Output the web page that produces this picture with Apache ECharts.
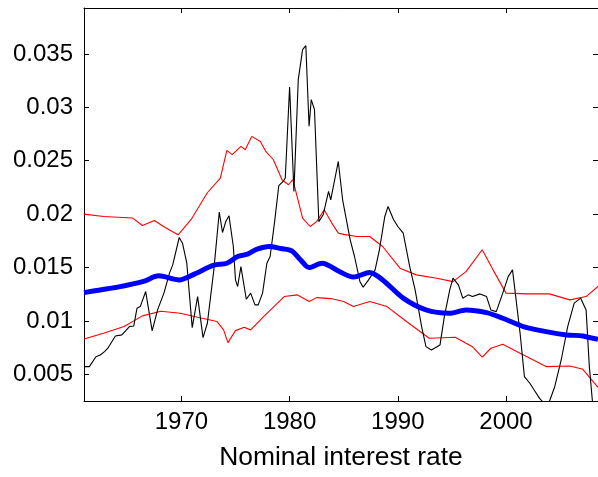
<!DOCTYPE html>
<html>
<head>
<meta charset="utf-8">
<script src="https://cdn.jsdelivr.net/npm/echarts@6/dist/echarts.min.js"></script>
<style>html,body{margin:0;padding:0;background:#fff}#c{width:598px;height:477px}</style>
</head>
<body>
<div id="c"></div>
<script>
var xTicks = [1970, 1980, 1990, 2000];
var yTicks = [0.005, 0.01, 0.015, 0.02, 0.025, 0.03, 0.035];
var xTitle = 'Nominal interest rate';

var trendYears = [1961.0,1962.5,1964.1,1966.5,1967.9,1969.8,1971.2,1973.0,1974.2,1975.2,1976.1,1977.0,1978.1,1979.2,1980.2,1981.0,1981.8,1983.0,1984.6,1985.9,1987.4,1988.6,1990.5,1992.6,1994.8,1996.3,1998.2,1999.7,2001.6,2003.7,2005.6,2007.1,2008.5];
var trendVals  = [0.01265,0.0129,0.01316,0.0137,0.01422,0.01384,0.01438,0.01522,0.0154,0.01603,0.01625,0.01672,0.01697,0.01678,0.01656,0.01572,0.0150,0.0154,0.01462,0.0141,0.01453,0.01384,0.01213,0.01103,0.01072,0.01103,0.01078,0.01025,0.00947,0.0090,0.00869,0.00859,0.00828];

var upperYears = [1961.0,1962.8,1965.5,1966.4,1967.5,1968.5,1969.7,1970.9,1972.4,1973.6,1974.2,1974.7,1975.5,1975.9,1976.5,1977.3,1977.8,1978.5,1979.3,1979.9,1980.3,1981.2,1981.9,1982.5,1983.2,1983.9,1984.5,1985.0,1986.2,1987.4,1988.6,1990.2,1991.7,1993.6,1995.1,1996.3,1997.8,1998.8,2000.0,2001.9,2004.0,2005.9,2007.4,2008.5];
var upperVals  = [0.0200,0.01978,0.01963,0.01893,0.0194,0.01875,0.01806,0.0195,0.0220,0.02338,0.02597,0.02557,0.02634,0.02603,0.02728,0.0268,0.02587,0.02509,0.02322,0.02275,0.02322,0.01963,0.01884,0.0193,0.02041,0.01916,0.01822,0.0181,0.0179,0.0179,0.01697,0.01494,0.01431,0.0140,0.01368,0.01462,0.01666,0.01478,0.0126,0.01253,0.01253,0.01197,0.01228,0.01322];

var lowerYears = [1961.0,1962.8,1964.7,1966.4,1968.1,1969.9,1971.5,1973.3,1973.9,1974.3,1975.0,1975.8,1976.4,1977.6,1979.5,1980.7,1981.8,1982.5,1983.8,1985.0,1985.9,1987.4,1989.0,1990.8,1992.9,1995.3,1996.9,1997.8,1998.6,1999.7,2001.3,2003.7,2005.9,2007.1,2008.5];
var lowerVals  = [0.00831,0.00885,0.00947,0.01047,0.01091,0.01072,0.01035,0.00994,0.00916,0.00797,0.00909,0.00941,0.00916,0.0104,0.01228,0.01244,0.01181,0.01218,0.01209,0.01181,0.01134,0.01181,0.01134,0.00994,0.00838,0.00847,0.00759,0.0066,0.00744,0.00782,0.00697,0.00572,0.00578,0.00547,0.00378];

var rateYears = [1961.0,1961.5,1962.1,1962.5,1962.9,1963.2,1963.9,1964.5,1965.2,1965.6,1965.9,1966.2,1966.7,1967.3,1967.8,1968.4,1968.9,1969.2,1969.8,1970.1,1970.5,1971.0,1971.5,1972.0,1972.4,1973.0,1973.5,1973.8,1974.1,1974.4,1974.8,1975.0,1975.2,1975.5,1976.0,1976.4,1976.8,1977.1,1977.5,1977.9,1978.2,1978.6,1979.0,1979.4,1979.6,1980.0,1980.4,1980.8,1981.2,1981.5,1981.8,1982.0,1982.3,1982.7,1983.1,1983.6,1983.8,1984.5,1984.9,1985.6,1986.0,1986.5,1986.8,1987.3,1987.9,1988.3,1988.8,1989.1,1989.6,1990.0,1990.5,1991.1,1991.6,1992.2,1992.6,1993.1,1993.9,1994.3,1994.8,1995.1,1995.6,1996.0,1996.5,1996.9,1997.6,1998.2,1998.6,1999.1,1999.7,2000.2,2000.6,2001.3,2001.7,2002.2,2002.6,2003.1,2003.5,2004.0,2004.5,2005.1,2005.7,2006.3,2006.9,2007.4,2007.7,2008.0,2008.5];
var rateVals  = [0.00572,0.00572,0.00665,0.00681,0.00712,0.00744,0.00859,0.00869,0.00947,0.00953,0.01119,0.01134,0.01275,0.00906,0.01103,0.01265,0.01447,0.01525,0.01781,0.01728,0.0154,0.00937,0.01228,0.00843,0.00978,0.01478,0.0202,0.01828,0.0193,0.01984,0.01697,0.01384,0.01322,0.01509,0.01203,0.0126,0.0115,0.0115,0.0126,0.0154,0.01603,0.01916,0.02266,0.02306,0.02338,0.03191,0.02212,0.03259,0.0354,0.03578,0.02822,0.03072,0.02978,0.0193,0.01994,0.02212,0.02134,0.02493,0.02134,0.01759,0.01603,0.01368,0.01316,0.01384,0.01478,0.01666,0.01978,0.02072,0.0195,0.01884,0.01822,0.01509,0.0129,0.00947,0.00759,0.00728,0.00775,0.0104,0.0129,0.0140,0.01338,0.01213,0.01244,0.01228,0.01253,0.01228,0.01103,0.01087,0.0126,0.01415,0.01478,0.00885,0.00478,0.00416,0.00353,0.00275,0.0023,0.00243,0.00384,0.00634,0.00947,0.01166,0.01213,0.01103,0.00572,0.0023,0.0015];

function zip(a, b) { return a.map(function (v, i) { return [v, b[i]]; }); }

var FONT = '"Liberation Sans", Arial, sans-serif';
var X_MIN = 1961, X_MAX = 2008.5, Y_MIN = 0.0025, Y_MAX = 0.0393;

function baseAxis(extra) {
  var o = {
    type: 'value',
    axisLine: { show: true, onZero: false, lineStyle: { color: '#000', width: 1 } },
    axisTick: { show: true, inside: true, length: 5, lineStyle: { color: '#000', width: 1 } },
    splitLine: { show: false },
    axisLabel: { show: false }
  };
  for (var k in extra) o[k] = extra[k];
  return o;
}

var chart = echarts.init(document.getElementById('c'), null, { renderer: 'canvas' });
chart.setOption({
  animation: false,
  backgroundColor: '#fff',
  grid: { left: 84, top: 8, width: 515, height: 393, containLabel: false },
  xAxis: [
    baseAxis({
      position: 'bottom', min: X_MIN, max: X_MAX,
      name: xTitle, nameLocation: 'middle', nameGap: 44,
      nameTextStyle: { fontFamily: FONT, fontSize: 26.4, color: '#000' },
      axisTick: { show: true, inside: true, length: 5, customValues: xTicks, lineStyle: { color: '#000', width: 1 } },
      axisLabel: { show: true, customValues: xTicks, margin: 9, fontFamily: FONT, fontSize: 24, color: '#000',
        formatter: function (v) { return String(v); } }
    }),
    baseAxis({
      position: 'top', min: X_MIN, max: X_MAX,
      axisTick: { show: true, inside: true, length: 5, customValues: xTicks, lineStyle: { color: '#000', width: 1 } }
    })
  ],
  yAxis: [
    baseAxis({
      position: 'left', min: Y_MIN, max: Y_MAX,
      axisTick: { show: true, inside: true, length: 5, customValues: yTicks, lineStyle: { color: '#000', width: 1 } },
      axisLabel: { show: true, customValues: yTicks, margin: 11, fontFamily: FONT, fontSize: 24, color: '#000',
        formatter: function (v) { return String(v); } }
    }),
    baseAxis({
      position: 'right', min: Y_MIN, max: Y_MAX,
      axisTick: { show: true, inside: true, length: 5, customValues: yTicks, lineStyle: { color: '#000', width: 1 } }
    })
  ],
  series: [
    { type: 'line', name: 'upper', data: zip(upperYears, upperVals), showSymbol: false, symbol: 'none',
      lineStyle: { color: '#ff0000', width: 1.1 }, clip: true, z: 2 },
    { type: 'line', name: 'lower', data: zip(lowerYears, lowerVals), showSymbol: false, symbol: 'none',
      lineStyle: { color: '#ff0000', width: 1.1 }, clip: true, z: 2 },
    { type: 'line', name: 'rate', data: zip(rateYears, rateVals), showSymbol: false, symbol: 'none',
      lineStyle: { color: '#000000', width: 1.1 }, clip: true, z: 3 },
    { type: 'line', name: 'trend', data: zip(trendYears, trendVals), showSymbol: false, symbol: 'none', smooth: 0.3,
      lineStyle: { color: '#0000ff', width: 5 }, clip: true, z: 4 }
  ]
});
</script>
</body>
</html>
